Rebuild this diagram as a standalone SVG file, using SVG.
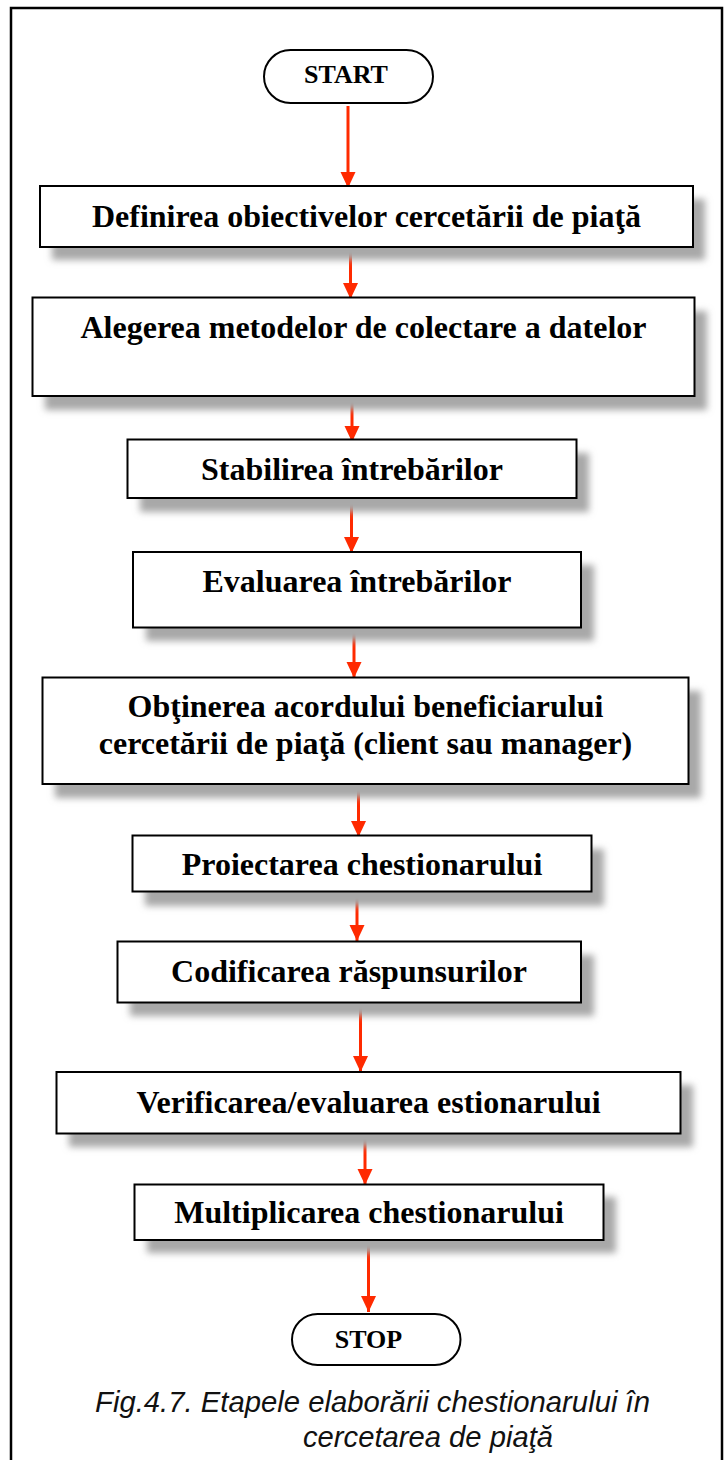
<svg xmlns="http://www.w3.org/2000/svg" width="725" height="1460" viewBox="0 0 725 1460">
  <style>
    .frame { fill: #ffffff; stroke: #000000; stroke-width: 2.5; }
    .box { fill: #ffffff; stroke: #000000; stroke-width: 2; }
    .shadow { fill: #a8a8a8; filter: url(#soft); }
    .pill { fill: #ffffff; stroke: #000000; stroke-width: 2; }
    .label { font-family: "Liberation Serif", "Times New Roman", serif; font-weight: bold; font-size: 32px; fill: #000000; text-anchor: middle; }
    .term { font-family: "Liberation Serif", "Times New Roman", serif; font-weight: bold; font-size: 26px; fill: #000000; text-anchor: middle; }
    .caption { font-family: "Liberation Sans", Arial, sans-serif; font-style: italic; font-size: 29.5px; fill: #111111; }
    .flow { stroke: #ff2a00; stroke-width: 3; fill: none; marker-end: url(#head); }
  </style>
  <defs>
    <filter id="soft" x="-10%" y="-30%" width="120%" height="160%">
      <feGaussianBlur stdDeviation="3.5"/>
    </filter>
    <marker id="head" markerUnits="userSpaceOnUse" markerWidth="16" markerHeight="16" refX="16" refY="7.5" orient="auto">
      <path d="M0,0 L16,7.5 L0,15 Z" fill="#ff2a00"/>
    </marker>
  </defs>

  <!-- page frame, open at the bottom edge of the sheet -->
  <rect class="frame" x="11" y="8" width="711" height="1470"/>

  <!-- connectors -->
  <g id="connectors">
    <line class="flow" x1="348" y1="106" x2="348" y2="188"/>
    <line class="flow" x1="350.5" y1="247" x2="350.5" y2="299"/>
    <line class="flow" x1="352" y1="401" x2="352" y2="442"/>
    <line class="flow" x1="351.5" y1="500" x2="351.5" y2="553"/>
    <line class="flow" x1="354" y1="629" x2="354" y2="678"/>
    <line class="flow" x1="358.5" y1="786" x2="358.5" y2="837"/>
    <line class="flow" x1="357" y1="889" x2="357" y2="941"/>
    <line class="flow" x1="360.5" y1="1003" x2="360.5" y2="1072"/>
    <line class="flow" x1="365" y1="1139" x2="365" y2="1185"/>
    <line class="flow" x1="368.5" y1="1243" x2="368.5" y2="1312"/>
  </g>

  <!-- terminals and steps -->
  <g id="start">
    <rect class="pill" x="264" y="50" width="169" height="53" rx="26.5" ry="26.5"/>
    <text class="term" x="346" y="83">START</text>
  </g>

  <g id="step1">
    <rect class="shadow" x="52" y="199" width="653" height="61"/>
    <rect class="box" x="40" y="186" width="653" height="61"/>
    <text class="label" x="366.5" y="227">Definirea obiectivelor cercetării de piaţă</text>
  </g>

  <g id="step2">
    <rect class="shadow" x="45" y="311" width="662" height="99"/>
    <rect class="box" x="32.5" y="297.5" width="662" height="98.5"/>
    <text class="label" x="363.5" y="338">Alegerea metodelor de colectare a datelor</text>
  </g>

  <g id="step3">
    <rect class="shadow" x="140" y="453" width="449" height="59"/>
    <rect class="box" x="127.5" y="439.5" width="449" height="58.5"/>
    <text class="label" x="352" y="480">Stabilirea întrebărilor</text>
  </g>

  <g id="step4">
    <rect class="shadow" x="146" y="565" width="448" height="76"/>
    <rect class="box" x="133" y="552" width="448" height="75.5"/>
    <text class="label" x="357" y="591.5">Evaluarea întrebărilor</text>
  </g>

  <g id="step5">
    <rect class="shadow" x="55" y="691" width="646" height="107"/>
    <rect class="box" x="42.5" y="677.5" width="646" height="106.5"/>
    <text class="label" x="365.5" y="716.5">Obţinerea acordului beneficiarului</text>
    <text class="label" x="365.5" y="753.5">cercetării de piaţă (client sau manager)</text>
  </g>

  <g id="step6">
    <rect class="shadow" x="145" y="849" width="459" height="57"/>
    <rect class="box" x="132.5" y="835.5" width="459" height="56"/>
    <text class="label" x="362" y="874.5">Proiectarea chestionarului</text>
  </g>

  <g id="step7">
    <rect class="shadow" x="130" y="955" width="464" height="61"/>
    <rect class="box" x="117.5" y="941.5" width="463.5" height="61"/>
    <text class="label" x="349" y="981.5">Codificarea răspunsurilor</text>
  </g>

  <g id="step8">
    <rect class="shadow" x="69" y="1085" width="624" height="62"/>
    <rect class="box" x="56.5" y="1072" width="624" height="61.5"/>
    <text class="label" x="368.5" y="1112.5">Verificarea/evaluarea estionarului</text>
  </g>

  <g id="step9">
    <rect class="shadow" x="147" y="1197" width="469" height="56"/>
    <rect class="box" x="134.5" y="1184.5" width="469" height="55.5"/>
    <text class="label" x="369" y="1223">Multiplicarea chestionarului</text>
  </g>

  <g id="stop">
    <rect class="pill" x="292" y="1314" width="168.5" height="51" rx="25.5" ry="25.5"/>
    <text class="term" x="368.5" y="1348">STOP</text>
  </g>

  <g id="caption">
    <text class="caption" x="95" y="1411.5" textLength="555" lengthAdjust="spacingAndGlyphs">Fig.4.7. Etapele elaborării chestionarului în</text>
    <text class="caption" x="303" y="1446.5" textLength="250" lengthAdjust="spacingAndGlyphs">cercetarea de piaţă</text>
  </g>
</svg>
